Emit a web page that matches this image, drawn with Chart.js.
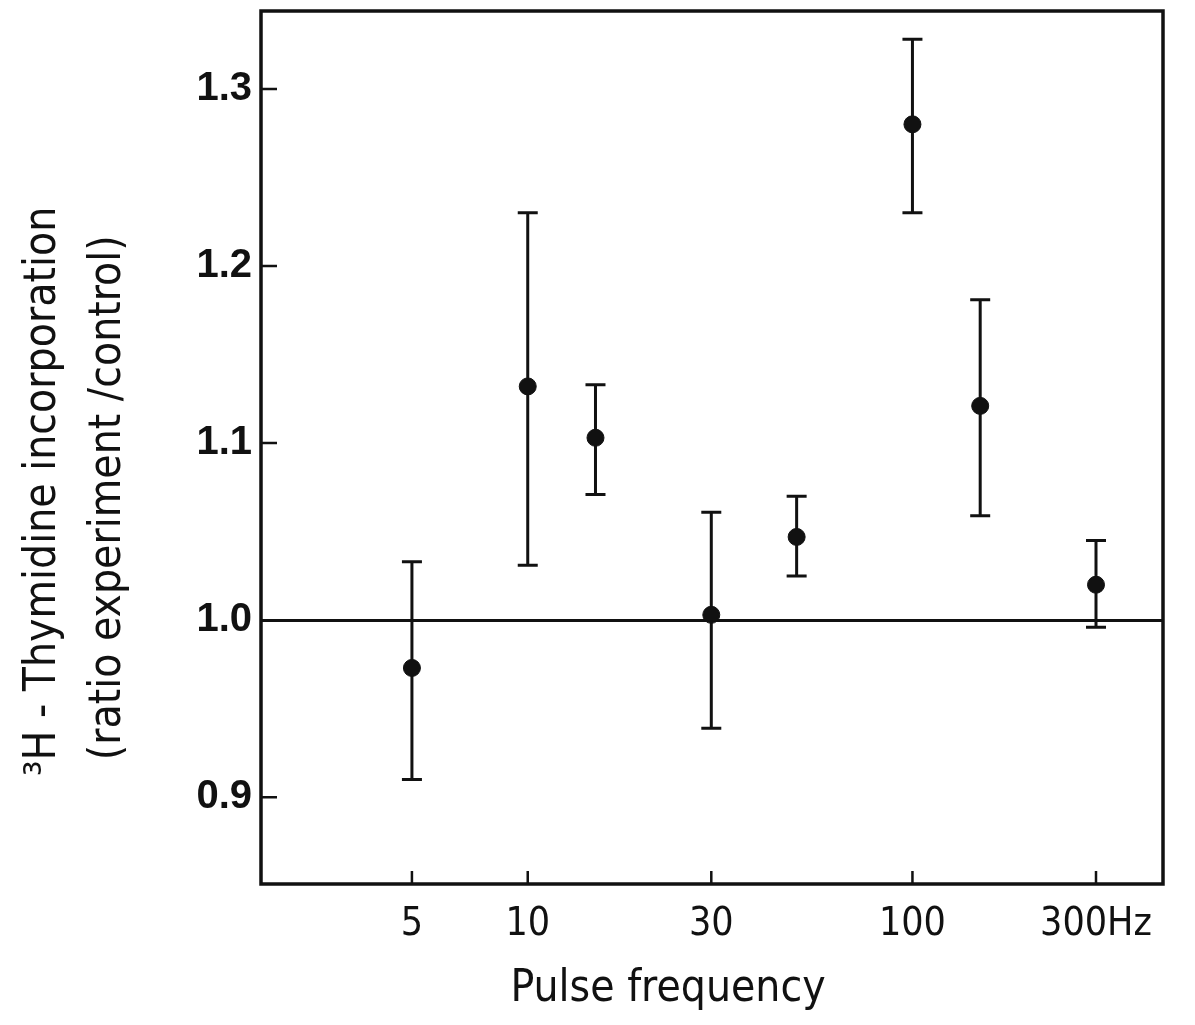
<!DOCTYPE html>
<html>
<head>
<meta charset="utf-8">
<script src="https://cdn.jsdelivr.net/npm/chart.js@4/dist/chart.umd.min.js"></script>
<style>
  html, body { margin: 0; padding: 0; background: #fff; }
  #wrap { width: 1195px; height: 1025px; }
</style>
</head>
<body>
<div id="wrap"><canvas id="c" width="1195" height="1025"></canvas></div>
<script>
// ---- data ----
const frequencies = [5, 10, 15, 30, 50, 100, 150, 300];          // Hz
const ratioMean   = [0.973, 1.132, 1.103, 1.003, 1.047, 1.280, 1.121, 1.020];
const ratioUpper  = [1.033, 1.230, 1.133, 1.061, 1.070, 1.328, 1.181, 1.045];
const ratioLower  = [0.910, 1.031, 1.071, 0.939, 1.025, 1.230, 1.059, 0.996];

const xTickValues = [5, 10, 30, 100, 300];
const xTickLabels = ['5', '10', '30', '100', '300Hz'];
const yTickValues = [0.9, 1.0, 1.1, 1.2, 1.3];
const yTickLabels = ['0.9', '1.0', '1.1', '1.2', '1.3'];
const referenceLevel = 1.0;

const xTitle = 'Pulse frequency';
const yTitleLines = ['\u00B3H - Thymidine incorporation', '(ratio experiment /control)'];

const INK = '#111';
const NARROW = '"DejaVu Sans Condensed", "DejaVu Sans", sans-serif';
const HEAVY = '"Liberation Sans", "DejaVu Sans", sans-serif';
const NBSP = '\u00A0';

const points = frequencies.map((f, i) => ({ x: f, y: ratioMean[i] }));

// error bars, frame and inward ticks drawn through the chart's scales
const decorations = {
  id: 'decorations',
  beforeDatasetsDraw(chart) {
    const { ctx, scales: { x, y } } = chart;
    ctx.save();
    ctx.strokeStyle = INK;
    ctx.lineWidth = 3;
    ctx.lineCap = 'butt';
    frequencies.forEach((f, i) => {
      const px = x.getPixelForValue(f);
      const top = y.getPixelForValue(ratioUpper[i]);
      const bot = y.getPixelForValue(ratioLower[i]);
      ctx.beginPath();
      ctx.moveTo(px, top); ctx.lineTo(px, bot);
      ctx.moveTo(px - 10, top); ctx.lineTo(px + 10, top);
      ctx.moveTo(px - 10, bot); ctx.lineTo(px + 10, bot);
      ctx.stroke();
    });
    ctx.restore();
  },
  afterDraw(chart) {
    const { ctx, chartArea: a, scales: { x, y } } = chart;
    ctx.save();
    ctx.strokeStyle = INK;
    ctx.lineWidth = 3.5;
    ctx.strokeRect(a.left, a.top, a.right - a.left, a.bottom - a.top);
    ctx.lineWidth = 2.5;
    ctx.beginPath();
    yTickValues.forEach(v => {
      const py = y.getPixelForValue(v);
      ctx.moveTo(a.left, py); ctx.lineTo(a.left + 16, py);
    });
    xTickValues.forEach(v => {
      const px = x.getPixelForValue(v);
      ctx.moveTo(px, a.bottom); ctx.lineTo(px, a.bottom - 13);
    });
    ctx.stroke();
    ctx.restore();
  }
};

new Chart(document.getElementById('c'), {
  type: 'scatter',
  data: {
    datasets: [{
      data: points,
      pointRadius: 8.5,
      pointHoverRadius: 8.5,
      pointBackgroundColor: INK,
      pointBorderColor: INK,
      pointBorderWidth: 1,
      showLine: false
    }]
  },
  plugins: [decorations],
  options: {
    responsive: false,
    animation: false,
    devicePixelRatio: 1,
    layout: { padding: { left: 0, right: 32, top: 11, bottom: 0 } },
    plugins: { legend: { display: false }, tooltip: { enabled: false } },
    scales: {
      x: {
        type: 'logarithmic',
        min: 2.026,
        max: 448,
        afterBuildTicks(scale) { scale.ticks = xTickValues.map(v => ({ value: v })); },
        afterFit(scale) { scale.height = 141; scale.paddingLeft = 0; scale.paddingRight = 0; },
        ticks: {
          autoSkip: false,
          maxRotation: 0,
          padding: 17,
          color: INK,
          font: { family: NARROW, size: 39 },
          callback(value) { const k = xTickValues.indexOf(value); return k >= 0 ? xTickLabels[k] : ''; }
        },
        grid: { display: false, drawTicks: false },
        border: { display: false },
        title: {
          display: true,
          text: xTitle + NBSP.repeat(7),
          color: INK,
          font: { family: NARROW, size: 44, lineHeight: 1.2 },
          padding: { top: 4, bottom: 9 }
        }
      },
      y: {
        type: 'linear',
        min: 0.851,
        max: 1.344,
        afterBuildTicks(scale) { scale.ticks = yTickValues.map(v => ({ value: v })); },
        afterFit(scale) { scale.width = 261; scale.paddingTop = 0; scale.paddingBottom = 0; },
        ticks: {
          autoSkip: false,
          padding: 9,
          color: INK,
          font: { family: HEAVY, size: 40, weight: 'bold' },
          callback(value) { const k = yTickValues.findIndex(v => Math.abs(v - value) < 1e-9); return k >= 0 ? yTickLabels[k] : ''; }
        },
        grid: {
          drawTicks: false,
          lineWidth: 3,
          color(c) { return (c.tick && Math.abs(c.tick.value - referenceLevel) < 1e-9) ? INK : 'rgba(0,0,0,0)'; }
        },
        border: { display: false },
        title: {
          display: true,
          text: [yTitleLines[0] + NBSP.repeat(7), yTitleLines[1] + NBSP.repeat(8)],
          color: INK,
          font: { family: NARROW, size: 44, lineHeight: 1.48 },
          padding: { top: 11, bottom: 0 }
        }
      }
    }
  }
});
</script>
</body>
</html>
